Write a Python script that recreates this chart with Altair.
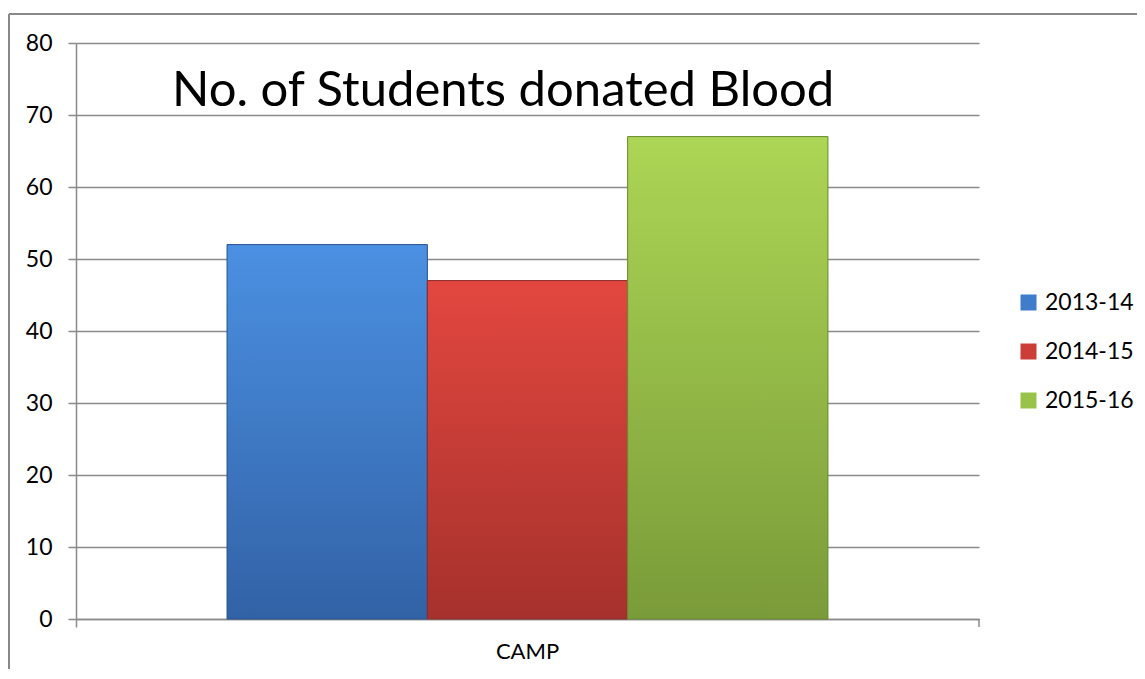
import altair as alt
import pandas as pd

categories = ["CAMP"]
years = ["2013-14", "2014-15", "2015-16"]
values = [52, 47, 67]
legend_colors = ["#3f7ccc", "#cc3d38", "#98c248"]
grad_top = ["#4b90e2", "#e2473f", "#acd655"]
grad_bottom = ["#3262a6", "#a6312c", "#7a9b39"]
edge_colors = ["#2a5390", "#8c2a26", "#6a8a30"]
y_ticks = [0, 10, 20, 30, 40, 50, 60, 70, 80]
title_text = "No. of Students donated Blood"

df = pd.DataFrame({"camp": [categories[0]] * len(years), "year": years, "value": values})

W, H = 903, 576
FONT = "Lato"
GRID = "#8a8a8a"

base = alt.Chart(df)

x_enc = alt.X(
    "camp:N",
    title=None,
    scale=alt.Scale(paddingInner=0, paddingOuter=0),
    axis=alt.Axis(
        bandPosition=0,
        labelAngle=0,
        labelFont=FONT,
        labelFontSize=22,
        labelColor="#000000",
        labelPadding=14,
        tickSize=8,
        tickColor=GRID,
        tickWidth=1.5,
        domainColor=GRID,
        domainWidth=1.5,
        grid=False,
    ),
)
xo_enc = alt.XOffset("year:N", scale=alt.Scale(paddingOuter=0.754, paddingInner=0))
y_enc = alt.Y(
    "value:Q",
    title=None,
    scale=alt.Scale(domain=[0, 80], nice=False),
    axis=alt.Axis(
        values=y_ticks,
        labelFont=FONT,
        labelFontSize=23,
        labelColor="#000000",
        labelPadding=16,
        tickSize=8,
        tickColor=GRID,
        tickWidth=1.5,
        domainColor=GRID,
        domainWidth=1.5,
        gridColor=GRID,
        gridWidth=1.5,
    ),
)

legend_layer = base.mark_bar().encode(
    x=x_enc,
    xOffset=xo_enc,
    y=y_enc,
    color=alt.Color(
        "year:N",
        scale=alt.Scale(domain=years, range=legend_colors),
        legend=alt.Legend(
            title=None,
            orient="none",
            legendX=941,
            legendY=248,
            symbolType="square",
            symbolSize=256,
            symbolStrokeWidth=0,
            labelFont=FONT,
            labelFontSize=23,
            labelColor="#000000",
            labelOffset=5,
            rowPadding=25,
        ),
    ),
)

layers = [legend_layer]
for yr, top, bot, edge in zip(years, grad_top, grad_bottom, edge_colors):
    grad = alt.LinearGradient(
        gradient="linear",
        x1=0, y1=0, x2=0, y2=1,
        stops=[
            alt.GradientStop(color=top, offset=0),
            alt.GradientStop(color=bot, offset=1),
        ],
    )
    layers.append(
        base.transform_filter(alt.datum.year == yr)
        .mark_bar(fill=grad, stroke=edge, strokeWidth=1)
        .encode(x=x_enc, xOffset=xo_enc, y=y_enc)
    )

one = alt.Data(values=[{"k": 1}])
right_tick = alt.Chart(one).mark_rule(color=GRID, strokeWidth=1.5).encode(
    x=alt.value(W), y=alt.value(H), y2=alt.value(H + 8)
)
left_border = alt.Chart(one).mark_rule(color="#888888", strokeWidth=2).encode(
    x=alt.value(-67), y=alt.value(-29), y2=alt.value(H + 60)
)
top_border = alt.Chart(one).mark_rule(color="#888888", strokeWidth=2).encode(
    x=alt.value(-67), x2=alt.value(W + 160), y=alt.value(-29)
)
title = alt.Chart(one).mark_text(
    text=title_text, font=FONT, fontSize=49, align="left", baseline="alphabetic", color="#000000"
).encode(x=alt.value(96), y=alt.value(63))

chart = alt.layer(*layers, right_tick, left_border, top_border, title).properties(
    width=W,
    height=H,
    autosize=alt.AutoSizeParams(type="none"),
    padding={"left": 68, "top": 35, "right": 158, "bottom": 50},
).configure_view(stroke=None)

chart.save("out.html", embed_options={"renderer": "svg", "actions": False})
